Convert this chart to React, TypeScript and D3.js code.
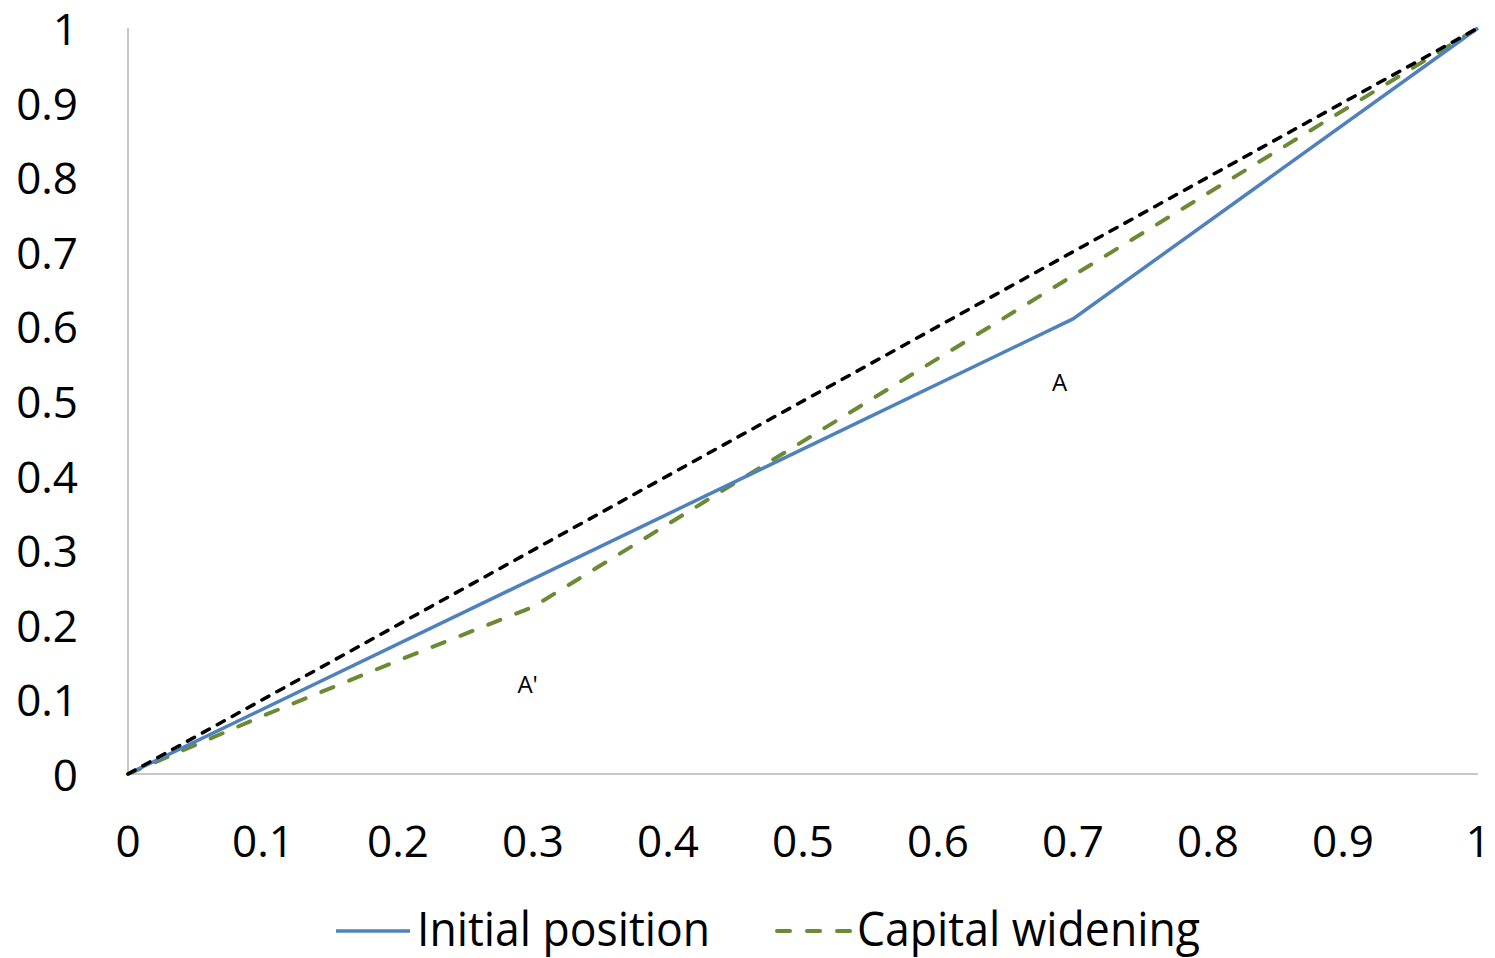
import React from "react";
import * as d3 from "d3";

const xTicks = [0, 0.1, 0.2, 0.3, 0.4, 0.5, 0.6, 0.7, 0.8, 0.9, 1];
const yTicks = [0, 0.1, 0.2, 0.3, 0.4, 0.5, 0.6, 0.7, 0.8, 0.9, 1];

const equalityX = [0, 1];
const equalityY = [0, 1];

const initialX = [0, 0.7, 1];
const initialY = [0, 0.61, 1];

const wideningX = [0, 0.1, 0.2, 0.3, 0.7, 1];
const wideningY = [0, 0.078, 0.152, 0.224, 0.668, 1];

const annotations = [
  { label: "A", x: 0.69, y: 0.514 },
  { label: "A'", x: 0.296, y: 0.108 },
];

const legendItems = ["Initial position", "Capital widening"];

const W = 1495;
const H = 958;
const M = { left: 128, right: 1478, top: 28, bottom: 774 };

const FONT = "'Open Sans', 'Noto Sans', sans-serif";

export default function App() {
  const x = d3.scaleLinear().domain([0, 1]).range([M.left, M.right]);
  const y = d3.scaleLinear().domain([0, 1]).range([M.bottom, M.top]);
  const line = d3
    .line<[number, number]>()
    .x((d) => x(d[0]))
    .y((d) => y(d[1]));

  const zip = (a: number[], b: number[]) =>
    a.map((v, i) => [v, b[i]] as [number, number]);

  const blue = "#4F81BD";
  const green = "#6A8A34";
  const axisColor = "#C8C8C8";

  return (
    <svg
      width={W}
      height={H}
      style={{ position: "absolute", left: 0, top: 0, background: "#fff" }}
      fontFamily={FONT}
    >
      <rect x={0} y={0} width={W} height={H} fill="#fff" />
      {/* axes */}
      <line x1={x(0)} x2={x(0)} y1={y(1)} y2={y(0)} stroke={axisColor} strokeWidth={2} />
      <line x1={x(0)} x2={x(1)} y1={y(0)} y2={y(0)} stroke={axisColor} strokeWidth={2} />

      {/* y tick labels */}
      {yTicks.map((t) => (
        <text
          key={"y" + t}
          x={78}
          y={y(t)}
          textAnchor="end"
          dominantBaseline="central"
          fontSize={44}
          fill="#000"
        >
          {d3.format("~g")(t)}
        </text>
      ))}
      {/* x tick labels */}
      {xTicks.map((t) => (
        <text
          key={"x" + t}
          x={x(t)}
          y={840}
          textAnchor="middle"
          dominantBaseline="central"
          fontSize={44}
          fill="#000"
        >
          {d3.format("~g")(t)}
        </text>
      ))}

      {/* lines */}
      <path
        d={line(zip(wideningX, wideningY)) || ""}
        fill="none"
        stroke={green}
        strokeWidth={4}
        strokeDasharray="13 17"
        strokeLinecap="round"
      />
      <path
        d={line(zip(initialX, initialY)) || ""}
        fill="none"
        stroke={blue}
        strokeWidth={3.5}
      />
      <path
        d={line(zip(equalityX, equalityY)) || ""}
        fill="none"
        stroke="#000"
        strokeWidth={3.5}
        strokeDasharray="8 9"
        strokeLinecap="round"
      />

      {/* annotations */}
      {annotations.map((a) => (
        <text
          key={a.label}
          x={x(a.x)}
          y={y(a.y)}
          textAnchor="middle"
          fontSize={24}
          fill="#000"
        >
          {a.label}
        </text>
      ))}

      {/* legend */}
      <line x1={336} x2={410} y1={931} y2={931} stroke={blue} strokeWidth={3.5} />
      <text x={417} y={946} fontSize={48} textLength={293} lengthAdjust="spacingAndGlyphs" fill="#000">
        {legendItems[0]}
      </text>
      <line
        x1={777}
        x2={850}
        y1={931}
        y2={931}
        stroke={green}
        strokeWidth={4}
        strokeDasharray="13 17"
        strokeLinecap="round"
      />
      <text x={857} y={946} fontSize={48} textLength={343} lengthAdjust="spacingAndGlyphs" fill="#000">
        {legendItems[1]}
      </text>
    </svg>
  );
}
